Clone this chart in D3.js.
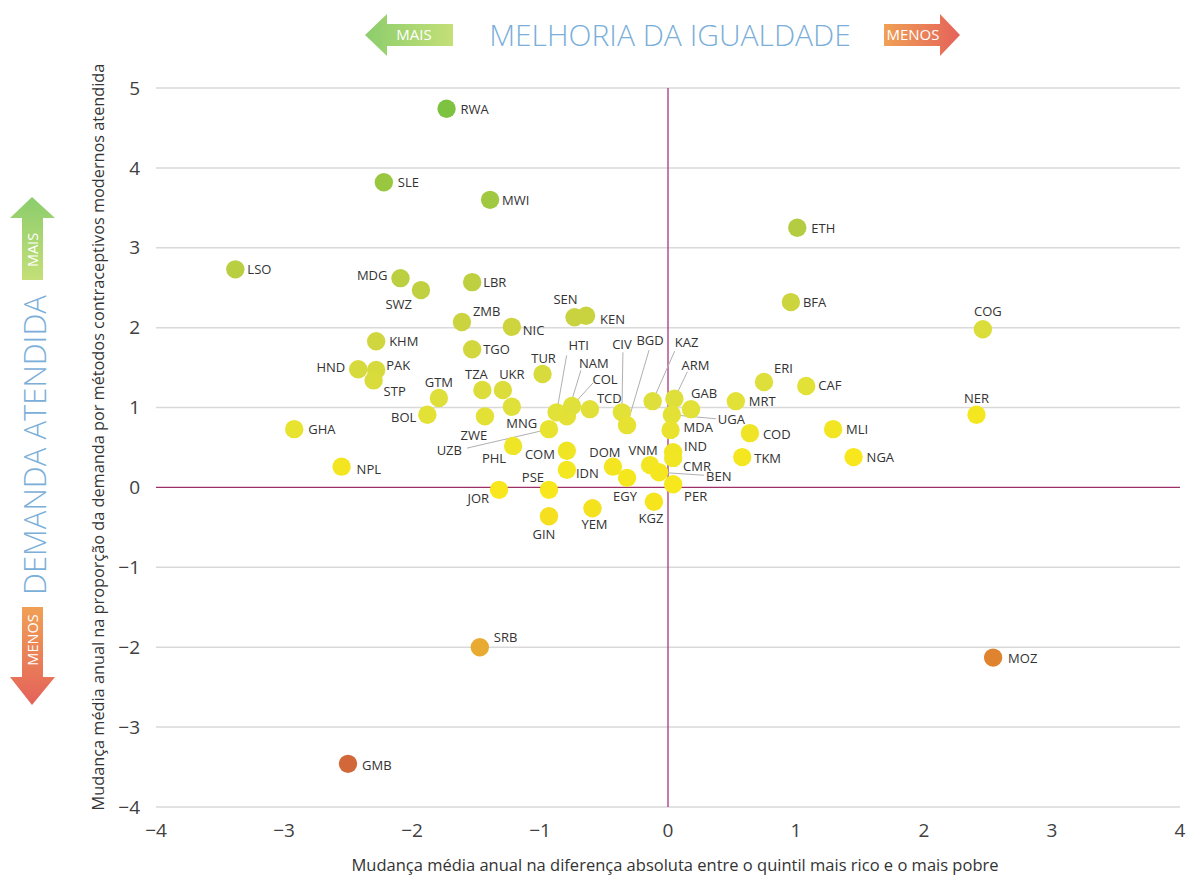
<!DOCTYPE html>
<html><head><meta charset="utf-8">
<script src="https://cdn.jsdelivr.net/npm/d3@7"></script>
<style>
html,body{margin:0;padding:0;background:#fff;}
text{font-family:"Open Sans","Noto Sans",sans-serif;}
</style></head>
<body><svg id="chart" width="1188" height="875"></svg>
<script>
// ---- Data ----
const codes = ["RWA","SLE","MWI","ETH","LSO","MDG","LBR","SWZ","BFA","ZMB","SEN","KEN","NIC","COG","KHM","TGO","HND","PAK","STP","TUR","TZA","UKR","GTM","ERI","CAF","MRT","NER","ZWE","BOL","MNG","UZB","HTI","NAM","COL","TCD","CIV","BGD","KAZ","ARM","GAB","UGA","MDA","IND","CMR","VNM","BEN","PER","DOM","EGY","KGZ","YEM","GIN","COM","IDN","PSE","JOR","PHL","GHA","NPL","COD","TKM","MLI","NGA","SRB","GMB","MOZ"];
const gapChange = [-1.73,-2.22,-1.39,1.01,-3.38,-2.09,-1.53,-1.93,0.96,-1.61,-0.73,-0.64,-1.22,2.46,-2.28,-1.53,-2.42,-2.28,-2.30,-0.98,-1.45,-1.29,-1.79,0.75,1.08,0.53,2.41,-1.43,-1.88,-1.22,-0.93,-0.87,-0.79,-0.75,-0.61,-0.36,-0.32,-0.12,0.05,0.18,0.03,0.02,0.04,0.04,-0.14,-0.07,0.04,-0.43,-0.32,-0.11,-0.59,-0.93,-0.79,-0.79,-0.93,-1.32,-1.21,-2.92,-2.55,0.64,0.58,1.29,1.45,-1.47,-2.50,2.54];
const demandChange = [4.74,3.82,3.60,3.25,2.73,2.62,2.57,2.47,2.32,2.07,2.13,2.15,2.01,1.98,1.83,1.73,1.48,1.47,1.34,1.42,1.22,1.22,1.12,1.32,1.27,1.08,0.91,0.89,0.91,1.01,0.73,0.94,0.89,1.02,0.98,0.94,0.78,1.08,1.11,0.98,0.91,0.72,0.44,0.37,0.28,0.19,0.04,0.26,0.12,-0.18,-0.26,-0.36,0.46,0.22,-0.03,-0.03,0.52,0.73,0.26,0.68,0.38,0.73,0.38,-2.00,-3.46,-2.13];
const xTicks = [-4,-3,-2,-1,0,1,2,3,4];
const yTicks = [5,4,3,2,1,0,-1,-2,-3,-4];
const titleText = "MELHORIA DA IGUALDADE";
const yGroupText = "DEMANDA ATENDIDA";
const moreText = "MAIS", lessText = "MENOS";
const xTitle = "Mudança média anual na diferença absoluta entre o quintil mais rico e o mais pobre";
const yTitle = "Mudança média anual na proporção da demanda por métodos contraceptivos modernos atendida";

// ---- Label layout (anchor, dx, dy[, leader dx, leader dy]) ----
const labelPos = {
 RWA:["start",14,5],SLE:["start",14,5],MWI:["start",12,5],ETH:["start",14,5],LSO:["start",12,5],
 MDG:["end",-13,2],LBR:["start",11,5],SWZ:["end",-9,19],BFA:["start",12,5],ZMB:["start",11,-6],
 SEN:["middle",-9,-13],KEN:["start",14,8],NIC:["start",11,8],COG:["middle",5,-13],KHM:["start",13,5],
 TGO:["start",11,5],HND:["end",-13,3],PAK:["start",10,0],STP:["start",10,16],TUR:["middle",1,-11],
 TZA:["middle",-6,-11],UKR:["middle",9,-11],GTM:["middle",0,-11],ERI:["start",10,-9],CAF:["start",12,4],
 MRT:["start",13,5],NER:["middle",0,-12],ZWE:["middle",-11,24],BOL:["end",-11,7],MNG:["middle",10,21],
 TCD:["start",7,-6],GAB:["start",0,-11],MDA:["start",13,2],IND:["start",11,-1],CMR:["start",10,13],
 VNM:["middle",-7,-10],PER:["start",11,17],DOM:["middle",-8,-10],EGY:["middle",-2,23],KGZ:["middle",-3,21],
 YEM:["middle",2,21],GIN:["middle",-5,23],COM:["end",-12,8],IDN:["start",9,8],PSE:["middle",-16,-8],
 JOR:["end",-10,13],PHL:["end",-7,17],GHA:["start",14,5],NPL:["start",15,7],COD:["start",13,6],
 TKM:["start",12,6],MLI:["start",13,5],NGA:["start",13,5],SRB:["start",14,-5],GMB:["start",14,6],MOZ:["start",15,5],
 HTI:["middle",22,-62,10,-57],NAM:["middle",27,-48,14,-46],COL:["middle",33,-22,21,-23],
 CIV:["middle",0,-63,1,-60],BGD:["middle",23,-80,22,-75],KAZ:["middle",34,-54,22,-50],
 ARM:["middle",21,-29,13,-27],UGA:["start",46,9,44,4],BEN:["start",47,9,45,3],UZB:["end",-87,26,-82,19]
};

const svg = d3.select("#chart");
const x = d3.scaleLinear().domain([-4,4]).range([156,1180]);
const y = d3.scaleLinear().domain([5,-4]).range([88,807]);

const colorScale = d3.scaleLinear()
  .domain([-3.45,-2.9,-2.0,-0.5,0,0.5,1,2,3,4,4.75])
  .range(['#d2683a','#e0832f','#e8aa30','#f4dc1f','#f7e81c','#efe526','#e0e03a','#cdd43e','#b2cc42','#94c640','#7ec242'])
  .clamp(true);
const colorOf = (xv,yv)=>colorScale(yv - 0.3*Math.max(xv,0));

svg.append("g").selectAll("line").data(yTicks.filter(d=>d!==0)).join("line")
  .attr("x1",x(-4)).attr("x2",x(4)).attr("y1",d=>y(d)).attr("y2",d=>y(d))
  .attr("stroke","#d9d9d9").attr("stroke-width",1.5);
svg.append("line").attr("x1",x(-4)).attr("x2",x(4)).attr("y1",y(0)).attr("y2",y(0))
  .attr("stroke","#9e3068").attr("stroke-width",1.3);
svg.append("line").attr("x1",x(0)).attr("x2",x(0)).attr("y1",y(5)).attr("y2",y(-4))
  .attr("stroke","#a8357a").attr("stroke-width",1.3);

const fmt = d=> d<0 ? "\u2212"+Math.abs(d) : String(d);
svg.append("g").selectAll("text").data(yTicks).join("text")
  .attr("x",140).attr("y",d=>y(d)).attr("dy","0.35em").attr("text-anchor","end")
  .attr("font-size",19).attr("fill","#404040").text(fmt);
svg.append("g").selectAll("text").data(xTicks).join("text")
  .attr("x",d=>x(d)).attr("y",830).attr("dy","0.35em").attr("text-anchor","middle")
  .attr("font-size",19).attr("fill","#404040").text(fmt);

svg.append("text").attr("x",675).attr("y",871).attr("text-anchor","middle")
  .attr("font-size",16.5).attr("fill","#333").text(xTitle);
svg.append("text").attr("transform","translate(104,437) rotate(-90)").attr("text-anchor","middle")
  .attr("font-size",16.3).attr("fill","#333").text(yTitle);

const pts = codes.map((c,i)=>({code:c,xv:gapChange[i],yv:demandChange[i]}));

svg.append("g").selectAll("line").data(pts.filter(p=>labelPos[p.code].length>3)).join("line")
  .attr("x1",p=>x(p.xv)).attr("y1",p=>y(p.yv))
  .attr("x2",p=>x(p.xv)+labelPos[p.code][3]).attr("y2",p=>y(p.yv)+labelPos[p.code][4])
  .attr("stroke","#b0b0b0").attr("stroke-width",1);

svg.append("g").selectAll("circle").data(pts).join("circle")
  .attr("cx",p=>x(p.xv)).attr("cy",p=>y(p.yv)).attr("r",9.2)
  .attr("fill",p=>colorOf(p.xv,p.yv));

svg.append("g").selectAll("text").data(pts).join("text")
  .attr("x",p=>x(p.xv)+labelPos[p.code][1]).attr("y",p=>y(p.yv)+labelPos[p.code][2])
  .attr("text-anchor",p=>labelPos[p.code][0])
  .attr("font-size",13).attr("fill","#333").text(p=>p.code);

const defs = svg.append("defs");
function grad(id,x1,y1,x2,y2,c1,c2){
  const g=defs.append("linearGradient").attr("id",id).attr("x1",x1).attr("y1",y1).attr("x2",x2).attr("y2",y2);
  g.append("stop").attr("offset","0%").attr("stop-color",c1);
  g.append("stop").attr("offset","100%").attr("stop-color",c2);
}
grad("gL","0","0","1","0","#8ccd6c","#c4df78");
grad("gR","0","0","1","0","#f0a055","#e4625a");
grad("gU","0","0","0","1","#8ccd6c","#c4df78");
grad("gD","0","0","0","1","#f0a055","#e4625a");

svg.append("text").attr("x",670).attr("y",46).attr("text-anchor","middle")
  .attr("font-size",30).attr("font-weight",300).attr("fill","#7bafd9").text(titleText);
svg.append("path").attr("d","M365,35 L387,14 L387,24 L453,24 L453,46 L387,46 L387,56 Z").attr("fill","url(#gL)");
svg.append("text").attr("x",414).attr("y",35).attr("dy","0.36em").attr("text-anchor","middle")
  .attr("font-size",15).attr("fill","#fff").text(moreText);
svg.append("path").attr("d","M884,24 L940,24 L940,14 L960,35 L940,56 L940,46 L884,46 Z").attr("fill","url(#gR)");
svg.append("text").attr("x",913).attr("y",35).attr("dy","0.36em").attr("text-anchor","middle")
  .attr("font-size",15).attr("fill","#fff").text(lessText);
svg.append("text").attr("transform","translate(35,445) rotate(-90)").attr("dy","0.36em").attr("text-anchor","middle")
  .attr("font-size",31).attr("font-weight",300).attr("fill","#7bafd9").text(yGroupText);
svg.append("path").attr("d","M32,197 L55,218 L43,218 L43,280 L22,280 L22,218 L10,218 Z").attr("fill","url(#gU)");
svg.append("text").attr("transform","translate(33,250) rotate(-90)").attr("dy","0.36em").attr("text-anchor","middle")
  .attr("font-size",14.5).attr("fill","#fff").text(moreText);
svg.append("path").attr("d","M22,607 L43,607 L43,677 L55,677 L32,705 L10,677 L22,677 Z").attr("fill","url(#gD)");
svg.append("text").attr("transform","translate(33,640) rotate(-90)").attr("dy","0.36em").attr("text-anchor","middle")
  .attr("font-size",14.5).attr("fill","#fff").text(lessText);
</script></body></html>
